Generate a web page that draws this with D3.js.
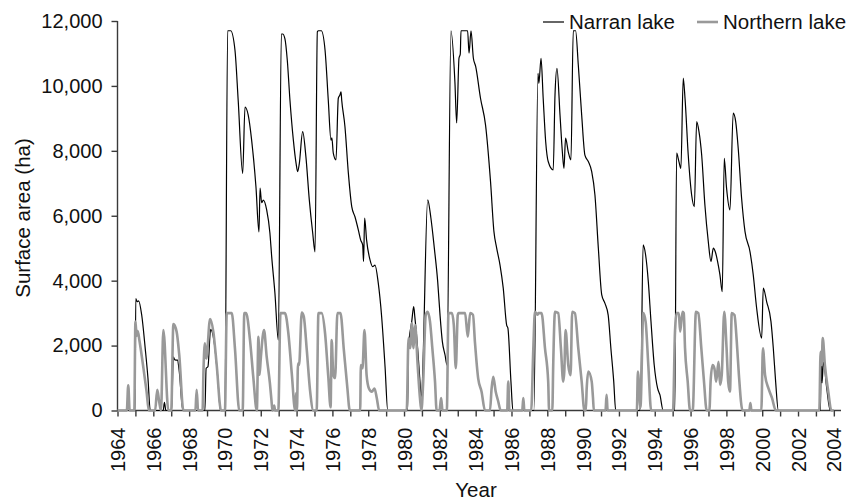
<!DOCTYPE html>
<html>
<head>
<meta charset="utf-8">
<script src="https://cdn.jsdelivr.net/npm/d3@7"></script>
<style>
  body { margin: 0; background: #fff; }
  svg { display: block; font-family: "Liberation Sans", Arial, Helvetica, sans-serif; }
</style>
</head>
<body>
<svg id="chart"></svg>
<script>
// [year, surface area (ha)]
const narranLake = [
  [1964.0, 0], [1964.98, 0], [1965.02, 3450], [1965.1, 3350], [1965.18, 3380], [1965.35, 2950],
  [1965.55, 1900], [1965.7, 1000], [1965.83, 0], [1966.55, 0], [1966.62, 250], [1966.7, 0],
  [1967.02, 0], [1967.12, 1650], [1967.2, 1560], [1967.35, 1550], [1967.45, 1200], [1967.65, 0],
  [1968.88, 0], [1968.95, 1300], [1969.05, 1350], [1969.2, 2500], [1969.4, 2100], [1969.6, 1000],
  [1969.75, 0], [1970.0, 0], [1970.15, 11700], [1970.32, 11700], [1970.56, 11100], [1970.74, 9550],
  [1970.99, 7300], [1971.12, 9350], [1971.3, 9100], [1971.49, 8330], [1971.73, 6900], [1971.9, 5500],
  [1971.96, 6850], [1972.05, 6400], [1972.14, 6480], [1972.33, 6180], [1972.51, 5470], [1972.61, 4740],
  [1972.79, 3620], [1972.98, 2170], [1973.15, 11600], [1973.22, 11600], [1973.35, 11450], [1973.48, 10800],
  [1973.63, 9560], [1973.82, 8330], [1973.97, 7620], [1974.06, 7360], [1974.15, 7600], [1974.34, 8590],
  [1974.52, 7820], [1974.71, 6490], [1974.9, 5470], [1975.03, 4890], [1975.16, 11670], [1975.22, 11700],
  [1975.38, 11700], [1975.59, 11100], [1975.77, 9560], [1975.92, 8330], [1975.97, 8400], [1976.05, 7930],
  [1976.2, 7720], [1976.33, 9620], [1976.42, 9720], [1976.48, 9820], [1976.52, 9560], [1976.7, 8750],
  [1976.89, 7320], [1977.08, 6280], [1977.26, 5970], [1977.45, 5560], [1977.58, 5250], [1977.69, 5100],
  [1977.74, 4590], [1977.8, 5930], [1977.91, 5250], [1978.1, 4640], [1978.25, 4430], [1978.38, 4480],
  [1978.56, 3930], [1978.75, 2890], [1978.94, 1350], [1979.09, 0], [1980.2, 0], [1980.24, 1900],
  [1980.43, 2740], [1980.54, 3200], [1980.6, 2900], [1980.76, 1920], [1980.89, 890], [1980.98, 300],
  [1981.06, 1500], [1981.32, 6490], [1981.5, 5930], [1981.69, 5010], [1981.88, 3970], [1982.01, 2940],
  [1982.14, 2120], [1982.29, 1710], [1982.4, 1400], [1982.62, 11700], [1982.84, 10130], [1982.94, 8860],
  [1983.07, 10860], [1983.14, 10980], [1983.18, 11700], [1983.55, 11700], [1983.63, 11010], [1983.74, 11700],
  [1983.87, 10860], [1984.0, 10600], [1984.27, 9620], [1984.55, 8800], [1984.83, 7050], [1985.02, 5510],
  [1985.17, 5010], [1985.36, 4480], [1985.54, 3770], [1985.73, 2630], [1985.8, 2540], [1985.97, 890],
  [1986.08, 0], [1987.25, 0], [1987.48, 10390], [1987.53, 10080], [1987.65, 10850], [1987.77, 9620],
  [1987.91, 8280], [1988.05, 7670], [1988.33, 7410], [1988.43, 9720], [1988.54, 10540], [1988.71, 9100],
  [1988.84, 7970], [1988.93, 7460], [1989.02, 8390], [1989.17, 7970], [1989.32, 7720], [1989.45, 11700],
  [1989.58, 11700], [1989.73, 10650], [1989.92, 9100], [1990.1, 7870], [1990.29, 7670], [1990.48, 7360],
  [1990.66, 6640], [1990.85, 5000], [1991.04, 3560], [1991.22, 3300], [1991.4, 2940], [1991.55, 1920],
  [1991.71, 890], [1991.82, 0], [1993.15, 0], [1993.22, 400], [1993.35, 5100], [1993.49, 4790],
  [1993.64, 3970], [1993.79, 2740], [1993.97, 1400], [1994.16, 680], [1994.29, 480], [1994.47, 0],
  [1995.12, 0], [1995.22, 7930], [1995.35, 7670], [1995.46, 7460], [1995.59, 10240], [1995.69, 9620],
  [1995.87, 7870], [1996.06, 6640], [1996.21, 6280], [1996.34, 8900], [1996.47, 8590], [1996.62, 7870],
  [1996.8, 6330], [1996.99, 5200], [1997.14, 4590], [1997.27, 5000], [1997.38, 4890], [1997.51, 4590],
  [1997.64, 4180], [1997.77, 3660], [1997.88, 7770], [1998.01, 6850], [1998.2, 6180], [1998.38, 9160],
  [1998.52, 8900], [1998.66, 8080], [1998.85, 6540], [1999.04, 5510], [1999.32, 4890], [1999.5, 4180],
  [1999.69, 3150], [1999.97, 2230], [2000.06, 3770], [2000.25, 3350], [2000.49, 2740], [2000.62, 1920],
  [2000.75, 890], [2000.9, 0], [2003.25, 0], [2003.3, 1800], [2003.34, 850], [2003.42, 1500],
  [2003.6, 700], [2003.8, 0], [2004.0, 0]
];

const northernLake = [
  [1964.0, 0], [1964.52, 0], [1964.6, 780], [1964.68, 0], [1964.94, 0], [1965.0, 2740], [1965.07, 2300],
  [1965.13, 2450], [1965.22, 2170], [1965.45, 1300], [1965.62, 600], [1965.75, 0], [1966.1, 0],
  [1966.22, 640], [1966.32, 300], [1966.43, 0], [1966.56, 2480], [1966.84, 0], [1967.0, 0], [1967.12, 2660],
  [1967.3, 2430], [1967.45, 1700], [1967.68, 0], [1968.35, 0], [1968.42, 640], [1968.5, 0], [1968.75, 0],
  [1968.8, 1200], [1968.88, 2070], [1968.96, 1600], [1969.17, 2820], [1969.35, 2430], [1969.54, 1400],
  [1969.78, 0], [1970.0, 0], [1970.1, 3000], [1970.38, 3000], [1970.56, 1900], [1970.8, 0], [1970.99, 0],
  [1971.08, 3000], [1971.18, 3000], [1971.4, 2170], [1971.58, 1040], [1971.78, 0], [1971.87, 2270],
  [1971.93, 1100], [1972.0, 1600], [1972.18, 2480], [1972.33, 1660], [1972.51, 840], [1972.6, 300],
  [1972.65, 0], [1972.75, 150], [1972.8, 0], [1972.98, 0], [1973.1, 3000], [1973.35, 3000], [1973.54, 2380],
  [1973.73, 1150], [1973.92, 0], [1973.97, 540], [1974.02, 0], [1974.08, 1450], [1974.14, 1400],
  [1974.29, 3020], [1974.4, 2900], [1974.57, 1860], [1974.75, 630], [1974.94, 0], [1975.12, 0],
  [1975.22, 3000], [1975.4, 3000], [1975.59, 2380], [1975.77, 1040], [1975.9, 100], [1975.96, 2170],
  [1976.05, 1100], [1976.15, 1000], [1976.28, 3000], [1976.45, 3000], [1976.64, 1860], [1976.83, 730],
  [1976.97, 0], [1977.55, 0], [1977.59, 1400], [1977.68, 1300], [1977.79, 2480], [1977.91, 1090],
  [1978.04, 680], [1978.2, 580], [1978.35, 680], [1978.48, 380], [1978.61, 0], [1980.15, 0],
  [1980.25, 2230], [1980.34, 1920], [1980.44, 2690], [1980.53, 1920], [1980.62, 2630], [1980.76, 1400],
  [1980.89, 380], [1980.97, 0], [1981.07, 890], [1981.21, 2940], [1981.32, 3040], [1981.45, 2740],
  [1981.58, 1920], [1981.73, 890], [1981.82, 0], [1981.98, 0], [1982.07, 380], [1982.15, 0], [1982.39, 0],
  [1982.48, 3000], [1982.67, 3000], [1982.78, 2630], [1982.89, 1300], [1983.0, 2940], [1983.04, 3000],
  [1983.41, 3000], [1983.56, 2270], [1983.69, 3000], [1983.85, 2950], [1983.96, 2100], [1984.14, 990],
  [1984.33, 580], [1984.52, 0], [1984.8, 0], [1984.89, 680], [1984.98, 1040], [1985.12, 580],
  [1985.25, 300], [1985.4, 0], [1985.76, 0], [1985.82, 890], [1985.88, 0], [1986.6, 0], [1986.66, 380],
  [1986.72, 0], [1987.1, 0], [1987.22, 1920], [1987.31, 3040], [1987.45, 2950], [1987.5, 3000],
  [1987.68, 3000], [1987.87, 1920], [1988.05, 890], [1988.1, 0], [1988.28, 0], [1988.33, 1400],
  [1988.43, 3040], [1988.61, 3000], [1988.76, 1920], [1988.89, 890], [1988.95, 1200], [1989.02, 2480],
  [1989.17, 1400], [1989.3, 1090], [1989.39, 3040], [1989.54, 3000], [1989.73, 1920], [1989.92, 890],
  [1990.07, 0], [1990.15, 0], [1990.2, 680], [1990.29, 1200], [1990.48, 890], [1990.55, 400], [1990.6, 0],
  [1991.25, 0], [1991.31, 480], [1991.37, 0], [1993.0, 0], [1993.06, 1200], [1993.11, 900], [1993.2, 100],
  [1993.36, 3000], [1993.49, 2740], [1993.64, 1400], [1993.8, 0], [1995.02, 0], [1995.13, 2430],
  [1995.22, 3000], [1995.34, 3000], [1995.42, 2430], [1995.55, 3040], [1995.62, 3000], [1995.69, 1920],
  [1995.84, 890], [1995.97, 0], [1996.12, 0], [1996.3, 3040], [1996.43, 3000], [1996.6, 1920],
  [1996.75, 890], [1996.9, 0], [1997.05, 0], [1997.12, 900], [1997.23, 1400], [1997.33, 1300],
  [1997.43, 890], [1997.56, 1500], [1997.65, 790], [1997.74, 1090], [1997.88, 3040], [1998.01, 1920],
  [1998.1, 890], [1998.2, 580], [1998.3, 3000], [1998.45, 2940], [1998.58, 2120], [1998.7, 1090],
  [1998.9, 0], [1999.28, 0], [1999.34, 230], [1999.4, 0], [1999.95, 0], [2000.04, 1920], [2000.16, 1090],
  [2000.35, 680], [2000.55, 380], [2000.76, 0], [2003.19, 0], [2003.26, 1810], [2003.32, 1400],
  [2003.38, 2230], [2003.5, 1400], [2003.69, 580], [2003.86, 0], [2004.0, 0]
];

const yTicks = [0, 2000, 4000, 6000, 8000, 10000, 12000];
const yearTicks = d3.range(1964, 2005);          // minor ticks every year
const yearLabels = d3.range(1964, 2005, 2);      // labelled every second year
const seriesNames = ['Narran lake', 'Northern lake'];

const width = 852, height = 502;
const svg = d3.select('#chart').attr('width', width).attr('height', height);

let x = d3.scaleLinear().domain([1964, 2004.4]).range([117.5, 841]);
let y = d3.scaleLinear().domain([0, 12000]).range([410.5, 21]);

const axisColor = '#3a3a3a';

// y axis
let yAxis = svg.append('g')
    .attr('transform', 'translate(117.5,0)')
    .call(d3.axisLeft(y).tickValues(yTicks).tickFormat(d3.format(',')).tickSize(6).tickPadding(9));
yAxis.select('.domain').attr('d', 'M0,' + y(12000) + 'V' + y(0));

// x axis (ticks every year, labels every other year)
let xAxis = svg.append('g')
    .attr('transform', 'translate(0,410.5)')
    .call(d3.axisBottom(x).tickValues(yearTicks).tickSize(6)
        .tickFormat(d => yearLabels.includes(d) ? String(d) : ''));
xAxis.select('.domain').attr('d', 'M' + x(1964) + ',0H' + x(2004.4));
xAxis.selectAll('text')
    .attr('transform', 'rotate(-90)')
    .attr('text-anchor', 'end')
    .attr('x', -17)
    .attr('y', 0)
    .attr('dy', '0.35em');

svg.selectAll('.domain, .tick line').attr('stroke', axisColor).attr('stroke-width', 1.4);
svg.selectAll('.tick text').attr('fill', '#111').style('font-size', '20px')
    .style('font-family', '"Liberation Sans", Arial, sans-serif');

// series
let line = d3.line()
    .x(d => x(d[0]))
    .y(d => y(d[1]))
    .curve(d3.curveMonotoneX);

svg.append('path')
    .datum(narranLake)
    .attr('fill', 'none')
    .attr('stroke', '#000')
    .attr('stroke-width', 1.2)
    .attr('d', line);

svg.append('path')
    .datum(northernLake)
    .attr('fill', 'none')
    .attr('stroke', '#999')
    .attr('stroke-width', 2.6)
    .attr('stroke-linejoin', 'round')
    .attr('d', line);

// axis titles
svg.append('text')
    .attr('x', 476)
    .attr('y', 497)
    .attr('text-anchor', 'middle')
    .style('font-size', '20.5px')
    .attr('fill', '#111')
    .text('Year');

svg.append('text')
    .attr('transform', 'translate(30,218) rotate(-90)')
    .attr('text-anchor', 'middle')
    .style('font-size', '20.5px')
    .attr('fill', '#111')
    .text('Surface area (ha)');

// legend
let legendItems = [
    { name: seriesNames[0], x: 543, color: '#000', width: 1.2 },
    { name: seriesNames[1], x: 697, color: '#999', width: 2.6 }
];
let legend = svg.append('g').attr('class', 'legend');
legendItems.forEach(item => {
    legend.append('line')
        .attr('x1', item.x).attr('x2', item.x + 21)
        .attr('y1', 22).attr('y2', 22)
        .attr('stroke', item.color)
        .attr('stroke-width', item.width);
    legend.append('text')
        .attr('x', item.x + 26)
        .attr('y', 29)
        .style('font-size', '20.5px')
        .attr('fill', '#111')
        .text(item.name);
});
</script>
</body>
</html>
